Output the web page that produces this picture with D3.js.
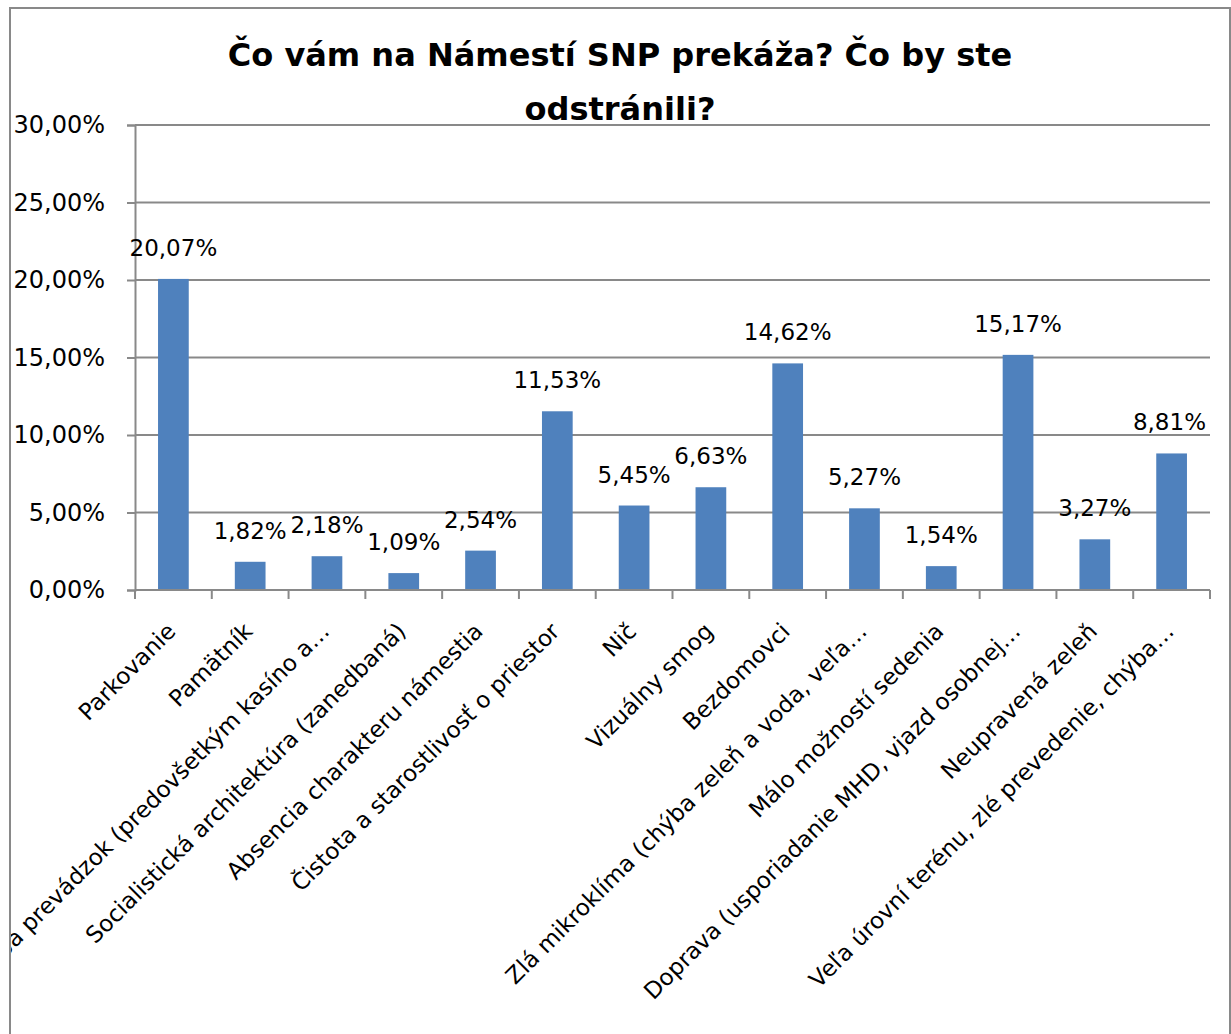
<!DOCTYPE html>
<html>
<head>
<meta charset="utf-8">
<script src="https://cdn.jsdelivr.net/npm/d3@7"></script>
<style>
  html, body { margin: 0; padding: 0; background: #fff; }
  svg { display: block; }
  text { font-family: "DejaVu Sans", sans-serif; fill: #000; }
</style>
</head>
<body>
<svg id="chart" width="1231" height="1034"></svg>
<script>
const categories = [
  "Parkovanie",
  "Pamätník",
  "Skladba prevádzok (predovšetkým kasíno a…",
  "Socialistická architektúra (zanedbaná)",
  "Absencia charakteru námestia",
  "Čistota a starostlivosť o priestor",
  "Nič",
  "Vizuálny smog",
  "Bezdomovci",
  "Zlá mikroklíma (chýba zeleň a voda, veľa…",
  "Málo možností sedenia",
  "Doprava (usporiadanie MHD, vjazd osobnej…",
  "Neupravená zeleň",
  "Veľa úrovní terénu, zlé prevedenie, chýba…"
];
const values = [20.07, 1.82, 2.18, 1.09, 2.54, 11.53, 5.45, 6.63, 14.62, 5.27, 1.54, 15.17, 3.27, 8.81];
const yTicks = [0, 5, 10, 15, 20, 25, 30];
const titleLines = ["Čo vám na Námestí SNP prekáža? Čo by ste", "odstránili?"];

const svg = d3.select("#chart");
const frame = {x: 10, y: 8, w: 1220, h: 1100};
const plot = {left: 135, right: 1210, top: 125, bottom: 590};
const gray = "#898989";

svg.append("defs").append("clipPath").attr("id", "frameClip")
  .append("rect").attr("x", frame.x + 1).attr("y", frame.y + 1)
  .attr("width", frame.w - 2).attr("height", frame.h);

const g = svg.append("g").attr("clip-path", "url(#frameClip)");

const x = d3.scaleBand().domain(d3.range(categories.length))
  .range([plot.left, plot.right]).padding(0);
const y = d3.scaleLinear().domain([0, 30]).range([plot.bottom, plot.top]);
const fmt = v => d3.format(".2f")(v).replace(".", ",") + "%";

// gridlines
g.append("g").selectAll("line").data(yTicks.filter(t => t > 0)).join("line")
  .attr("x1", plot.left).attr("x2", plot.right)
  .attr("y1", d => y(d)).attr("y2", d => y(d))
  .attr("stroke", gray).attr("stroke-width", 2);

// title
const title = g.append("g");
const tt = title.selectAll("text").data(titleLines).join("text")
  .attr("x", 620).attr("y", (d, i) => 66 + i * 54)
  .attr("text-anchor", "middle")
  .style("font-weight", "bold").style("font-size", "30px")
  .text(d => d);
const l0 = tt.nodes()[0].getComputedTextLength();
const fs = Math.min(34, 30 * 785 / l0);
tt.style("font-size", fs + "px");

// bars
const bw = x.bandwidth() * 0.4;
g.append("g").selectAll("rect").data(values).join("rect")
  .attr("x", (d, i) => x(i) + (x.bandwidth() - bw) / 2)
  .attr("width", bw)
  .attr("y", d => y(d))
  .attr("height", d => y(0) - y(d))
  .attr("fill", "#4F81BD");

// y axis
const yAxis = d3.axisLeft(y).tickValues(yTicks).tickSize(8).tickPadding(22)
  .tickFormat(d => d3.format(".2f")(d).replace(".", ",") + "%");
const ya = g.append("g").attr("transform", `translate(${plot.left},0)`).call(yAxis);
ya.select(".domain").attr("stroke", gray).attr("stroke-width", 2);
ya.selectAll(".tick line").attr("stroke", gray).attr("stroke-width", 2);
ya.selectAll(".tick text").style("font-size", "24px").style("font-family", "DejaVu Sans").attr("fill", "#000");

// x axis
const xa = g.append("g").attr("transform", `translate(0,${plot.bottom})`);
xa.append("line").attr("x1", plot.left).attr("x2", plot.right)
  .attr("stroke", gray).attr("stroke-width", 2);
const bounds = d3.range(categories.length + 1).map(i => plot.left + i * x.bandwidth());
xa.selectAll("line.tk").data(bounds).join("line").attr("class", "tk")
  .attr("x1", d => d).attr("x2", d => d).attr("y1", 0).attr("y2", 9)
  .attr("stroke", gray).attr("stroke-width", 2);
xa.selectAll("text").data(categories).join("text")
  .attr("transform", (d, i) => `translate(${x(i) + x.bandwidth() / 2 - 2},${37}) rotate(-45)`)
  .attr("text-anchor", "end").attr("dy", "0.35em")
  .style("font-size", "23px")
  .text(d => d);

// data labels
const lbl = g.append("g").selectAll("text").data(values).join("text")
  .attr("y", d => y(d) - 23)
  .attr("text-anchor", "middle")
  .style("font-size", "23px")
  .text(d => fmt(d));
lbl.each(function(d, i) {
  const w = this.getComputedTextLength();
  let cx = x(i) + x.bandwidth() / 2;
  if (cx + w / 2 > plot.right - 4) cx = plot.right - 4 - w / 2;
  d3.select(this).attr("x", cx);
});

// frame
svg.append("rect").attr("x", frame.x).attr("y", frame.y)
  .attr("width", frame.w).attr("height", frame.h)
  .attr("fill", "none").attr("stroke", gray).attr("stroke-width", 2);
</script>
</body>
</html>
